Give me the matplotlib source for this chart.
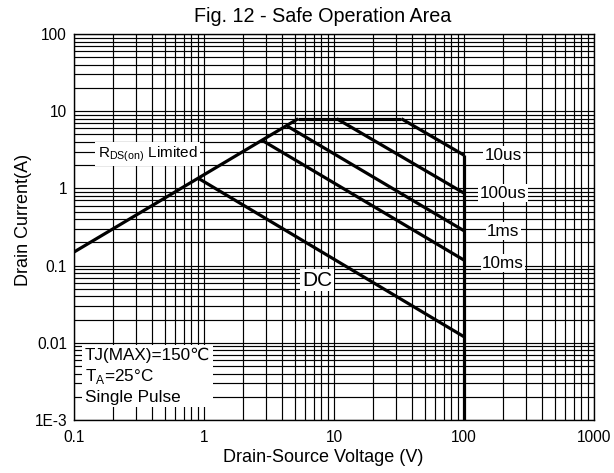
import matplotlib
matplotlib.use("Agg")
import matplotlib.pyplot as plt
from matplotlib.ticker import LogLocator, NullFormatter, FixedLocator

plt.rcParams['font.family'] = ['Liberation Sans', 'DejaVu Sans']
plt.rcParams['mathtext.fontset'] = 'custom'
plt.rcParams['mathtext.rm'] = 'Liberation Sans'

# SOA curves: (V, I) corner points
rds_v = [0.1, 5.3]
rds_i = [0.15, 8.0]
flat_v = [5.3, 33.0]
flat_i = [8.0, 8.0]
us10_v = [33.0, 100.0]
us10_i = [8.0, 2.7]
us100_v = [10.5, 100.0]
us100_i = [8.0, 0.87]
ms1_v = [4.35, 100.0]
ms1_i = [6.45, 0.283]
ms10_v = [2.8, 100.0]
ms10_i = [4.2, 0.118]
dc_v = [0.9, 100.0]
dc_i = [1.36, 0.012]
vmax_v = [100.0, 100.0]
vmax_i = [2.7, 1e-3]

curve_labels = ['10us', '100us', '1ms', '10ms']
label_x = [200, 200, 200, 200]
label_y = [2.7, 0.87, 0.28, 0.108]

x_ticks = [0.1, 1, 10, 100, 1000]
x_ticklabels = ['0.1', '1', '10', '100', '1000']
y_ticks = [1e-3, 0.01, 0.1, 1, 10, 100]
y_ticklabels = ['1E-3', '0.01', '0.1', '1', '10', '100']

fig = plt.figure(figsize=(6.14, 4.73), dpi=100)
ax = fig.add_axes([0.1205, 0.112, 0.8469, 0.816])
ax.set_xscale('log')
ax.set_yscale('log')
ax.set_xlim(0.1, 1000)
ax.set_ylim(1e-3, 100)

# grid (major + minor, all black)
ax.xaxis.set_minor_locator(LogLocator(base=10, subs=range(2, 10)))
ax.yaxis.set_minor_locator(LogLocator(base=10, subs=range(2, 10)))
ax.xaxis.set_minor_formatter(NullFormatter())
ax.yaxis.set_minor_formatter(NullFormatter())
ax.grid(True, which='both', color='black', linewidth=0.85)
ax.set_axisbelow(True)
ax.tick_params(which='both', length=0, labelsize=11.2)
ax.tick_params(axis='x', pad=7)
ax.tick_params(axis='y', pad=5)
ax.xaxis.set_major_locator(FixedLocator(x_ticks))
ax.yaxis.set_major_locator(FixedLocator(y_ticks))
ax.set_xticklabels(x_ticklabels)
ax.set_yticklabels(y_ticklabels)
for s in ax.spines.values():
    s.set_linewidth(1.0)

lw = 2.3
for v, i in [(rds_v, rds_i), (flat_v, flat_i), (us10_v, us10_i), (us100_v, us100_i),
             (ms1_v, ms1_i), (ms10_v, ms10_i), (dc_v, dc_i), (vmax_v, vmax_i)]:
    ax.plot(v, i, color='black', linewidth=lw, solid_capstyle='butt', zorder=3)

box = dict(facecolor='white', edgecolor='none', pad=1.0)
for name, x, y in zip(curve_labels, label_x, label_y):
    ax.text(x, y, name, ha='center', va='center', fontsize=12.3, bbox=box, zorder=4)

ax.text(7.4, 0.065, 'DC', ha='center', va='center', fontsize=15, bbox=box, zorder=4)

ax.text(0.152, 2.8, r'R$_\mathregular{DS(on)}$ Limited', ha='left', va='center',
        fontsize=11, bbox=dict(facecolor='white', edgecolor='none', pad=1.5), zorder=4)

ax.text(0.121, 0.0037, 'TJ(MAX)=150\u2103\n' + r'T$_\mathregular{A}$=25°C' + '\nSingle Pulse',
        ha='left', va='center', fontsize=12.3, linespacing=1.3,
        bbox=dict(facecolor='white', edgecolor='none', pad=2.0), zorder=4)

ax.set_title('Fig. 12 - Safe Operation Area', fontsize=14.2, pad=9, x=0.479)
ax.set_xlabel('Drain-Source Voltage (V)', fontsize=13, labelpad=3, x=0.479)
ax.set_ylabel('Drain Current(A)', fontsize=13, labelpad=2, y=0.518)

fig.savefig('out.png', dpi=100)
